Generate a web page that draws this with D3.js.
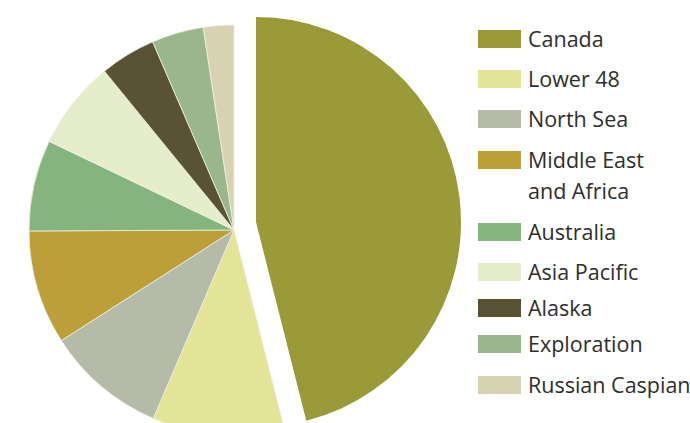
<!DOCTYPE html>
<html><head><meta charset="utf-8">
<script src="https://cdn.jsdelivr.net/npm/d3@7/dist/d3.min.js"></script>
<style>html,body{margin:0;padding:0;background:#fff;}svg{display:block;}</style>
</head><body>
<svg id="chart" width="690" height="423"></svg>
<script>
const categories = ["Canada","Lower 48","North Sea","Middle East\nand Africa","Australia","Asia Pacific","Alaska","Exploration","Russian Caspian"];
const values = [46.1, 10.4, 9.5, 9.0, 7.2, 7.0, 4.4, 4.1, 2.4];
const colors = ["#9a9a38","#e3e497","#b6baa8","#bd9f3a","#85b47e","#e6edcd","#595234","#9bb58d","#d8d2b2"];
const exploded = [true,false,false,false,false,false,false,false,false];

// layout (not data)
const legendRowY = [39, 79, 119, 160, 232, 272, 308, 344, 385];

const svg = d3.select("#chart");
const cx = 234, cy = 230, R = 205;
const explode = {dx: 22, dy: -8};

const pie = d3.pie().sort(null).value(d => d.v);
const arc = d3.arc().innerRadius(0).outerRadius(R);
const data = categories.map((c,i) => ({c, v: values[i], col: colors[i], ex: exploded[i]}));

const g = svg.append("g").attr("transform", `translate(${cx},${cy})`);
g.selectAll("path").data(pie(data)).join("path")
  .attr("d", arc)
  .attr("fill", d => d.data.col)
  .attr("stroke", d => d.data.ex ? "none" : "#eef0de")
  .attr("stroke-width", 0.8)
  .attr("stroke-linejoin", "round")
  .attr("transform", d => d.data.ex ? `translate(${explode.dx},${explode.dy})` : null);

// legend
const lg = svg.append("g").attr("transform", "translate(478,0)");
data.forEach((d, i) => {
  const y = legendRowY[i];
  const lines = d.c.split("\n");
  lg.append("rect").attr("x", 0).attr("y", y - 9).attr("width", 43).attr("height", 18).attr("fill", d.col);
  const t = lg.append("text").attr("x", 50).attr("y", y + 8)
    .attr("font-family", "'Open Sans', 'Noto Sans', sans-serif")
    .attr("font-size", 21.5).attr("fill", "#2e2e2e");
  lines.forEach((ln, k) => t.append("tspan").attr("x", 50).attr("dy", k === 0 ? 0 : 31).text(ln));
});
</script>
</body></html>
